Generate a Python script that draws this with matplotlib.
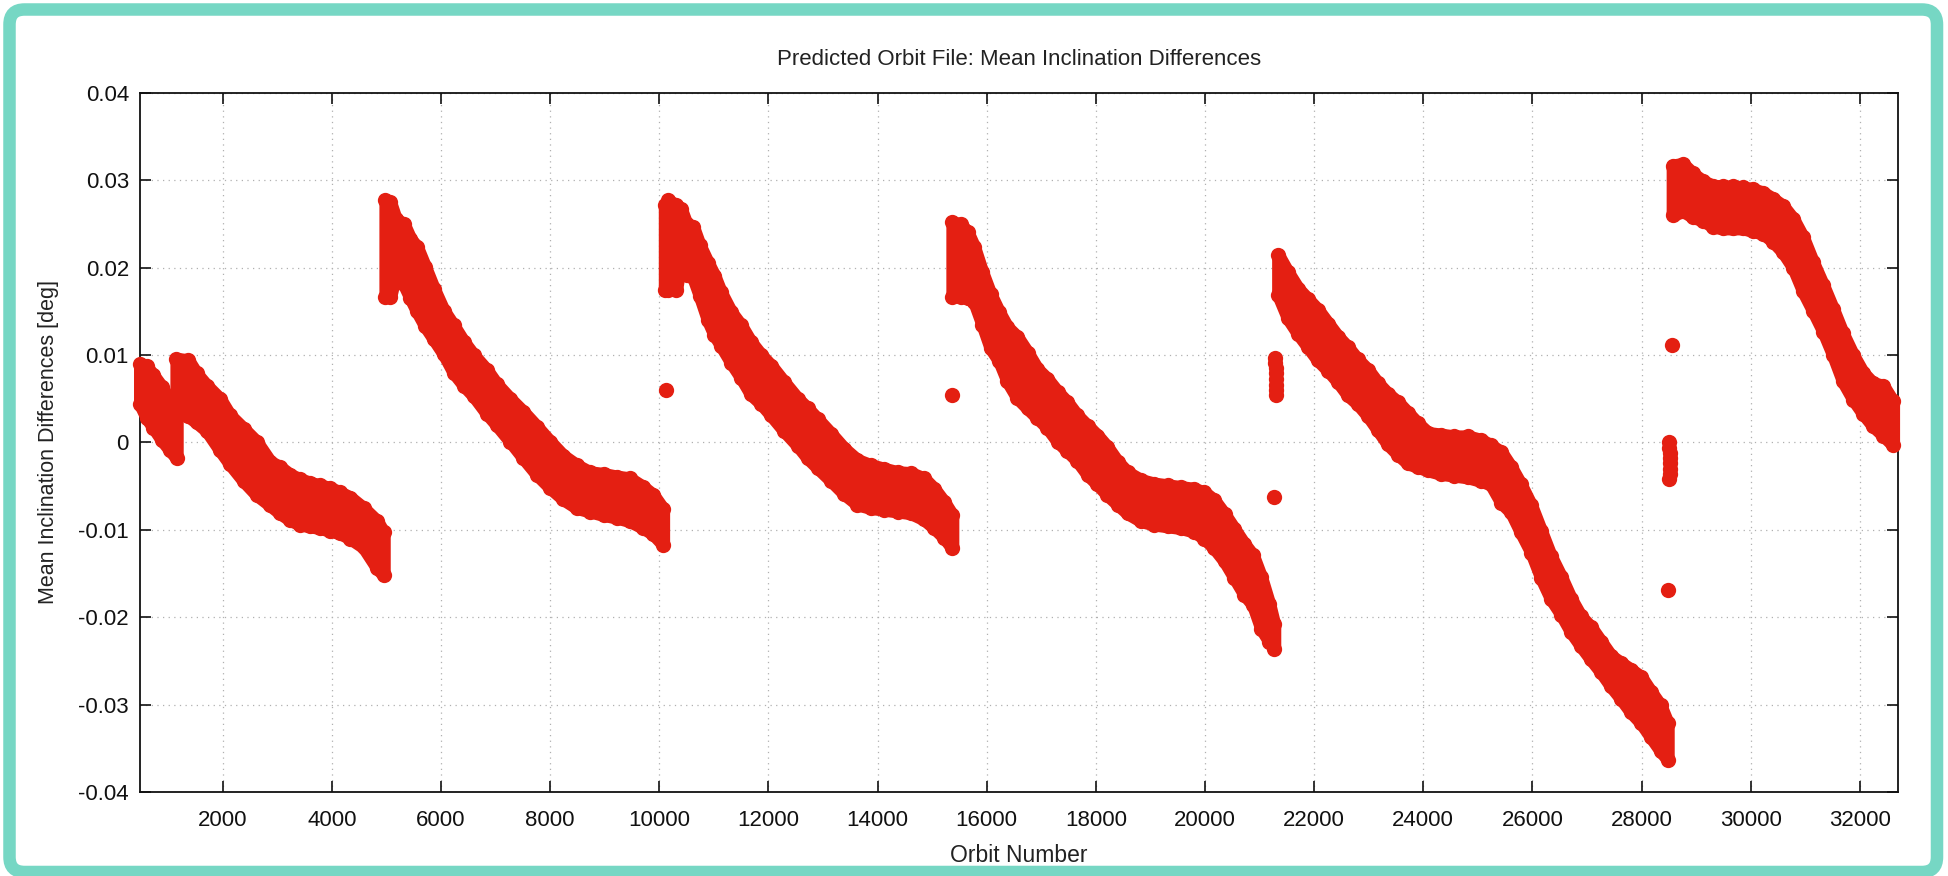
import matplotlib
matplotlib.use("Agg")
import matplotlib.pyplot as plt
from matplotlib.patches import FancyBboxPatch
import numpy as np

plt.rcParams['font.family'] = ['Liberation Sans', 'DejaVu Sans']

# ---------------- data (marker centres) ----------------
title = "Predicted Orbit File: Mean Inclination Differences"
xlabel = "Orbit Number"
ylabel = "Mean Inclination Differences [deg]"

x_ticks = [2000, 4000, 6000, 8000, 10000, 12000, 14000, 16000,
           18000, 20000, 22000, 24000, 26000, 28000, 30000, 32000]
y_ticks = [-0.04, -0.03, -0.02, -0.01, 0.0, 0.01, 0.02, 0.03, 0.04]
y_tick_labels = ["-0.04", "-0.03", "-0.02", "-0.01", "0", "0.01", "0.02", "0.03", "0.04"]
x_range = [483, 32700]
y_range = [-0.04, 0.04]

# band segments: orbit, upper edge of the point cloud, lower edge of the point cloud
seg1a_x = [483, 606, 728, 881, 1034, 1156]
seg1a_hi = [0.0090, 0.0087, 0.0077, 0.0064, 0.0047, 0.0035]
seg1a_lo = [0.0044, 0.0028, 0.0017, 0.0003, -0.0009, -0.0018]

seg1b_x = [1150, 1370, 1520, 1710, 1950, 2135, 2380, 2620, 2870, 3050,
           3240, 3420, 3600, 3780, 3970, 4150, 4340, 4580, 4830, 4950]
seg1b_hi = [0.0096, 0.0094, 0.0079, 0.0065, 0.0050, 0.0031, 0.0016, 0.0001, -0.0022, -0.0028,
            -0.0037, -0.0042, -0.0046, -0.0049, -0.0052, -0.0057, -0.0063, -0.0075, -0.0090, -0.0103]
seg1b_lo = [0.0040, 0.0030, 0.0023, 0.0013, -0.0009, -0.0025, -0.0044, -0.0060, -0.0072, -0.0081,
            -0.0089, -0.0094, -0.0096, -0.0098, -0.0101, -0.0104, -0.0110, -0.0120, -0.0144, -0.0152]

seg2_x = [4980, 5070, 5170, 5320, 5440, 5560, 5710, 5870, 6050, 6230, 6420, 6600, 6840, 7020,
          7270, 7510, 7760, 8000, 8240, 8490, 8730, 8980, 9220, 9460, 9710, 9890, 10070]
seg2_hi = [0.0277, 0.0275, 0.0256, 0.0250, 0.0233, 0.0224, 0.0201, 0.0176, 0.0151, 0.0134,
           0.0115, 0.0100, 0.0083, 0.0067, 0.0050, 0.0035, 0.0018, 0.0001, -0.0015, -0.0026,
           -0.0034, -0.0036, -0.0039, -0.0041, -0.0051, -0.0060, -0.0076]
seg2_lo = [0.0167, 0.0167, 0.0193, 0.0181, 0.0165, 0.0150, 0.0133, 0.0118, 0.0101, 0.0080,
           0.0065, 0.0053, 0.0033, 0.0020, 0.0001, -0.0018, -0.0037, -0.0052, -0.0065, -0.0075,
           -0.0079, -0.0083, -0.0086, -0.0090, -0.0098, -0.0105, -0.0117]

seg3_x = [10100, 10160, 10310, 10400, 10500, 10620, 10740, 10890, 11010, 11130, 11320, 11500,
          11680, 11870, 12050, 12290, 12540, 12720, 12900, 13150, 13390, 13630, 13880, 14120,
          14370, 14610, 14850, 15040, 15220, 15370]
seg3_hi = [0.0272, 0.0277, 0.0272, 0.0267, 0.0250, 0.0247, 0.0226, 0.0206, 0.0191, 0.0172,
           0.0149, 0.0134, 0.0115, 0.0100, 0.0088, 0.0069, 0.0050, 0.0039, 0.0027, 0.0010,
           -0.0007, -0.0020, -0.0026, -0.0030, -0.0034, -0.0035, -0.0041, -0.0053, -0.0068, -0.0083]
seg3_lo = [0.0175, 0.0175, 0.0175, 0.0211, 0.0192, 0.0189, 0.0168, 0.0140, 0.0123, 0.0111,
           0.0091, 0.0074, 0.0055, 0.0044, 0.0031, 0.0013, -0.0004, -0.0018, -0.0029, -0.0044,
           -0.0059, -0.0071, -0.0075, -0.0077, -0.0079, -0.0081, -0.0088, -0.0098, -0.0109, -0.0121]

seg4_x = [15370, 15520, 15650, 15770, 15920, 16070, 16230, 16380, 16560, 16750, 16930, 17110,
          17300, 17480, 17660, 17850, 18030, 18210, 18400, 18580, 18830, 19070, 19320, 19560,
          19800, 19990, 20170, 20360, 20540, 20720, 20880, 21030, 21180, 21270]
seg4_hi = [0.0252, 0.0250, 0.0241, 0.0224, 0.0195, 0.0170, 0.0149, 0.0132, 0.0121, 0.0103,
           0.0084, 0.0073, 0.0058, 0.0046, 0.0031, 0.0019, 0.0008, -0.0005, -0.0022, -0.0034,
           -0.0043, -0.0047, -0.0049, -0.0051, -0.0053, -0.0057, -0.0066, -0.0082, -0.0099,
           -0.0116, -0.0129, -0.0154, -0.0185, -0.0208]
seg4_lo = [0.0167, 0.0167, 0.0165, 0.0161, 0.0135, 0.0108, 0.0093, 0.0070, 0.0051, 0.0039,
           0.0028, 0.0017, 0.0001, -0.0010, -0.0021, -0.0037, -0.0048, -0.0060, -0.0071, -0.0081,
           -0.0090, -0.0094, -0.0096, -0.0098, -0.0102, -0.0110, -0.0121, -0.0136, -0.0155,
           -0.0174, -0.0186, -0.0213, -0.0228, -0.0236]

seg5_x = [21340, 21520, 21710, 21890, 22070, 22260, 22440, 22620, 22800, 22990, 23170, 23350,
          23540, 23720, 23900, 24090, 24330, 24570, 24820, 25060, 25240, 25430, 25610, 25790,
          25980, 26160, 26340, 26530, 26710, 26890, 27070, 27260, 27440, 27620, 27810, 27990,
          28170, 28350, 28480]
seg5_hi = [0.0215, 0.0195, 0.0176, 0.0164, 0.0152, 0.0136, 0.0121, 0.0109, 0.0095, 0.0083,
           0.0068, 0.0056, 0.0046, 0.0034, 0.0022, 0.0011, 0.0009, 0.0007, 0.0007, 0.0003,
           -0.0003, -0.0011, -0.0028, -0.0048, -0.0072, -0.0101, -0.0130, -0.0154, -0.0179,
           -0.0199, -0.0211, -0.0228, -0.0244, -0.0252, -0.0260, -0.0268, -0.0285, -0.0301, -0.0321]
seg5_lo = [0.0169, 0.0142, 0.0124, 0.0109, 0.0094, 0.0082, 0.0069, 0.0054, 0.0044, 0.0030,
           0.0014, -0.0002, -0.0014, -0.0024, -0.0028, -0.0032, -0.0036, -0.0038, -0.0040,
           -0.0044, -0.0048, -0.0069, -0.0080, -0.0103, -0.0126, -0.0155, -0.0179, -0.0197,
           -0.0217, -0.0233, -0.0248, -0.0263, -0.0279, -0.0293, -0.0309, -0.0321, -0.0337,
           -0.0353, -0.0363]

seg6_x = [28570, 28760, 28940, 29130, 29310, 29490, 29680, 29860, 30040, 30230, 30410, 30590,
          30780, 30960, 31140, 31330, 31510, 31690, 31880, 32060, 32240, 32430, 32610]
seg6_hi = [0.0317, 0.0319, 0.0308, 0.0299, 0.0294, 0.0293, 0.0293, 0.0292, 0.0290, 0.0286,
           0.0279, 0.0271, 0.0256, 0.0235, 0.0207, 0.0180, 0.0153, 0.0125, 0.0100, 0.0080,
           0.0068, 0.0065, 0.0047]
seg6_lo = [0.0260, 0.0265, 0.0258, 0.0254, 0.0247, 0.0245, 0.0245, 0.0245, 0.0242, 0.0239,
           0.0230, 0.0218, 0.0200, 0.0173, 0.0151, 0.0127, 0.0100, 0.0070, 0.0049, 0.0033,
           0.0019, 0.0008, -0.0003]

# isolated points
iso_x = [10120, 15370, 21260, 28550, 28480]
iso_y = [0.0060, 0.0054, -0.0062, 0.0112, -0.0169]

# short isolated columns of points
col1_x = [21290, 21290, 21295, 21295, 21300, 21300, 21300, 21295]
col1_y = [0.0097, 0.0091, 0.0085, 0.0079, 0.0073, 0.0066, 0.0060, 0.0054]
col2_x = [28510, 28510, 28515, 28515, 28520, 28520, 28515, 28510]
col2_y = [0.0000, -0.0006, -0.0012, -0.0018, -0.0024, -0.0030, -0.0036, -0.0042]

segments = [
    (seg1a_x, seg1a_hi, seg1a_lo),
    (seg1b_x, seg1b_hi, seg1b_lo),
    (seg2_x, seg2_hi, seg2_lo),
    (seg3_x, seg3_hi, seg3_lo),
    (seg4_x, seg4_hi, seg4_lo),
    (seg5_x, seg5_hi, seg5_lo),
    (seg6_x, seg6_hi, seg6_lo),
]

# ---------------- styling ----------------
RED = "#E41F12"
TEAL = "#76D7C4"
MARKER_D = 11.0         # marker diameter in points
S = MARKER_D ** 2
EDGE_W = 0.85 * MARKER_D

W, H = 1949, 876
fig = plt.figure(figsize=(W / 100, H / 100), dpi=100)
fig.patch.set_facecolor("white")

ax = fig.add_axes([140 / W, 1 - 792 / H, (1898 - 140) / W, (792 - 93) / H])

for xs, hi, lo in segments:
    xs = np.asarray(xs, float)
    hi = np.asarray(hi, float)
    lo = np.asarray(lo, float)
    band = ax.fill_between(xs, lo, hi, facecolor=RED, edgecolor=RED, lw=EDGE_W,
                           clip_on=False, zorder=3)
    band.set_joinstyle("round")
    ax.scatter(xs, hi, s=S, c=RED, lw=0, zorder=3, clip_on=False)
    ax.scatter(xs, lo, s=S, c=RED, lw=0, zorder=3, clip_on=False)

ax.scatter(iso_x, iso_y, s=S, c=RED, lw=0, zorder=3, clip_on=False)
ax.scatter(col1_x, col1_y, s=S, c=RED, lw=0, zorder=3, clip_on=False)
ax.scatter(col2_x, col2_y, s=S, c=RED, lw=0, zorder=3, clip_on=False)

ax.set_xlim(*x_range)
ax.set_ylim(*y_range)
ax.set_xticks(x_ticks)
ax.set_xticklabels([str(t) for t in x_ticks])
ax.set_yticks(y_ticks)
ax.set_yticklabels(y_tick_labels)

ax.tick_params(axis="both", which="both", direction="in", length=8, width=1.2,
               top=True, right=True, labelsize=16, colors="#111111")
ax.tick_params(axis="x", pad=13)
ax.tick_params(axis="y", pad=8)
for sp in ax.spines.values():
    sp.set_linewidth(1.3)
    sp.set_color("#111111")

ax.grid(True, color="#b0b0b0", linestyle=(0, (1, 3.5)), linewidth=0.9)
ax.set_axisbelow(True)

ax.set_title(title, fontsize=16, color="#222222", pad=20)
ax.set_xlabel(xlabel, fontsize=16.5, color="#222222", labelpad=9)
ax.set_ylabel(ylabel, fontsize=15.5, color="#222222", labelpad=14)

# teal rounded frame around the whole picture
frame = FancyBboxPatch((0.095, 0.04), 19.275, 8.625,
                       boxstyle="round,pad=0,rounding_size=0.15",
                       transform=fig.dpi_scale_trans, fill=False,
                       edgecolor=TEAL, linewidth=9.0, zorder=10)
fig.patches.append(frame)

fig.savefig("out.png", dpi=100, facecolor="white")
